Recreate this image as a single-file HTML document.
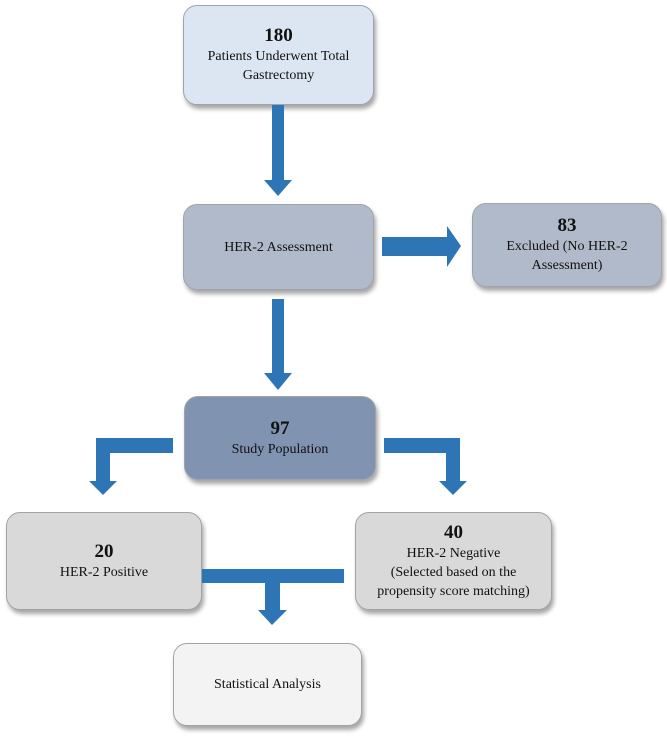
<!DOCTYPE html>
<html><head><style>
body{margin:0;width:667px;height:737px;background:#fff;position:relative;overflow:hidden;font-family:"Liberation Serif",serif;color:#111}
.b{position:absolute;box-sizing:border-box;border:1.5px solid #a0a4aa;border-radius:14px;box-shadow:2px 4px 4px rgba(0,0,0,.35);display:flex;flex-direction:column;justify-content:center;align-items:center;text-align:center;font-size:14px;line-height:19px}
.n{font-weight:bold;font-size:19px;line-height:22px}
svg{position:absolute;left:0;top:0}
</style></head><body>
<div class="b" style="left:183px;top:5px;width:191px;height:100px;background:#dce6f3"><span class="n">180</span>Patients Underwent Total<br>Gastrectomy</div>
<div class="b" style="left:183px;top:204px;width:191px;height:86px;background:#b1bacb">HER-2 Assessment</div>
<div class="b" style="left:472px;top:203px;width:190px;height:84px;background:#b1bacb"><span class="n">83</span>Excluded (No HER-2<br>Assessment)</div>
<div class="b" style="left:184px;top:396px;width:192px;height:84px;background:#8093b1"><span class="n">97</span>Study Population</div>
<div class="b" style="left:6px;top:512px;width:196px;height:98px;background:#d9d9d9"><span class="n">20</span>HER-2 Positive</div>
<div class="b" style="left:355px;top:512px;width:197px;height:98px;background:#d9d9d9"><span class="n">40</span>HER-2 Negative<br>(Selected based on the<br>propensity score matching)</div>
<div class="b" style="left:173px;top:643px;width:189px;height:83px;background:#f3f3f3">Statistical Analysis</div>
<svg width="667" height="737" fill="#2e75b6">
<rect x="272" y="105" width="12" height="76"/><polygon points="264,180 292,180 278,196"/>
<rect x="382" y="237" width="66" height="19"/><polygon points="447,226 447,267 461,246"/>
<rect x="272" y="299" width="12" height="75"/><polygon points="264,373 292,373 278,390"/>
<rect x="96" y="438" width="77" height="15"/><rect x="96" y="438" width="14" height="44"/><polygon points="89,481 117,481 103,495"/>
<rect x="384" y="438" width="76" height="15"/><rect x="446" y="438" width="14" height="44"/><polygon points="439,481 467,481 453,495"/>
<rect x="202" y="569" width="142" height="14"/><rect x="265" y="583" width="15" height="28"/><polygon points="258,610 287,610 272,625"/>
</svg>
</body></html>
